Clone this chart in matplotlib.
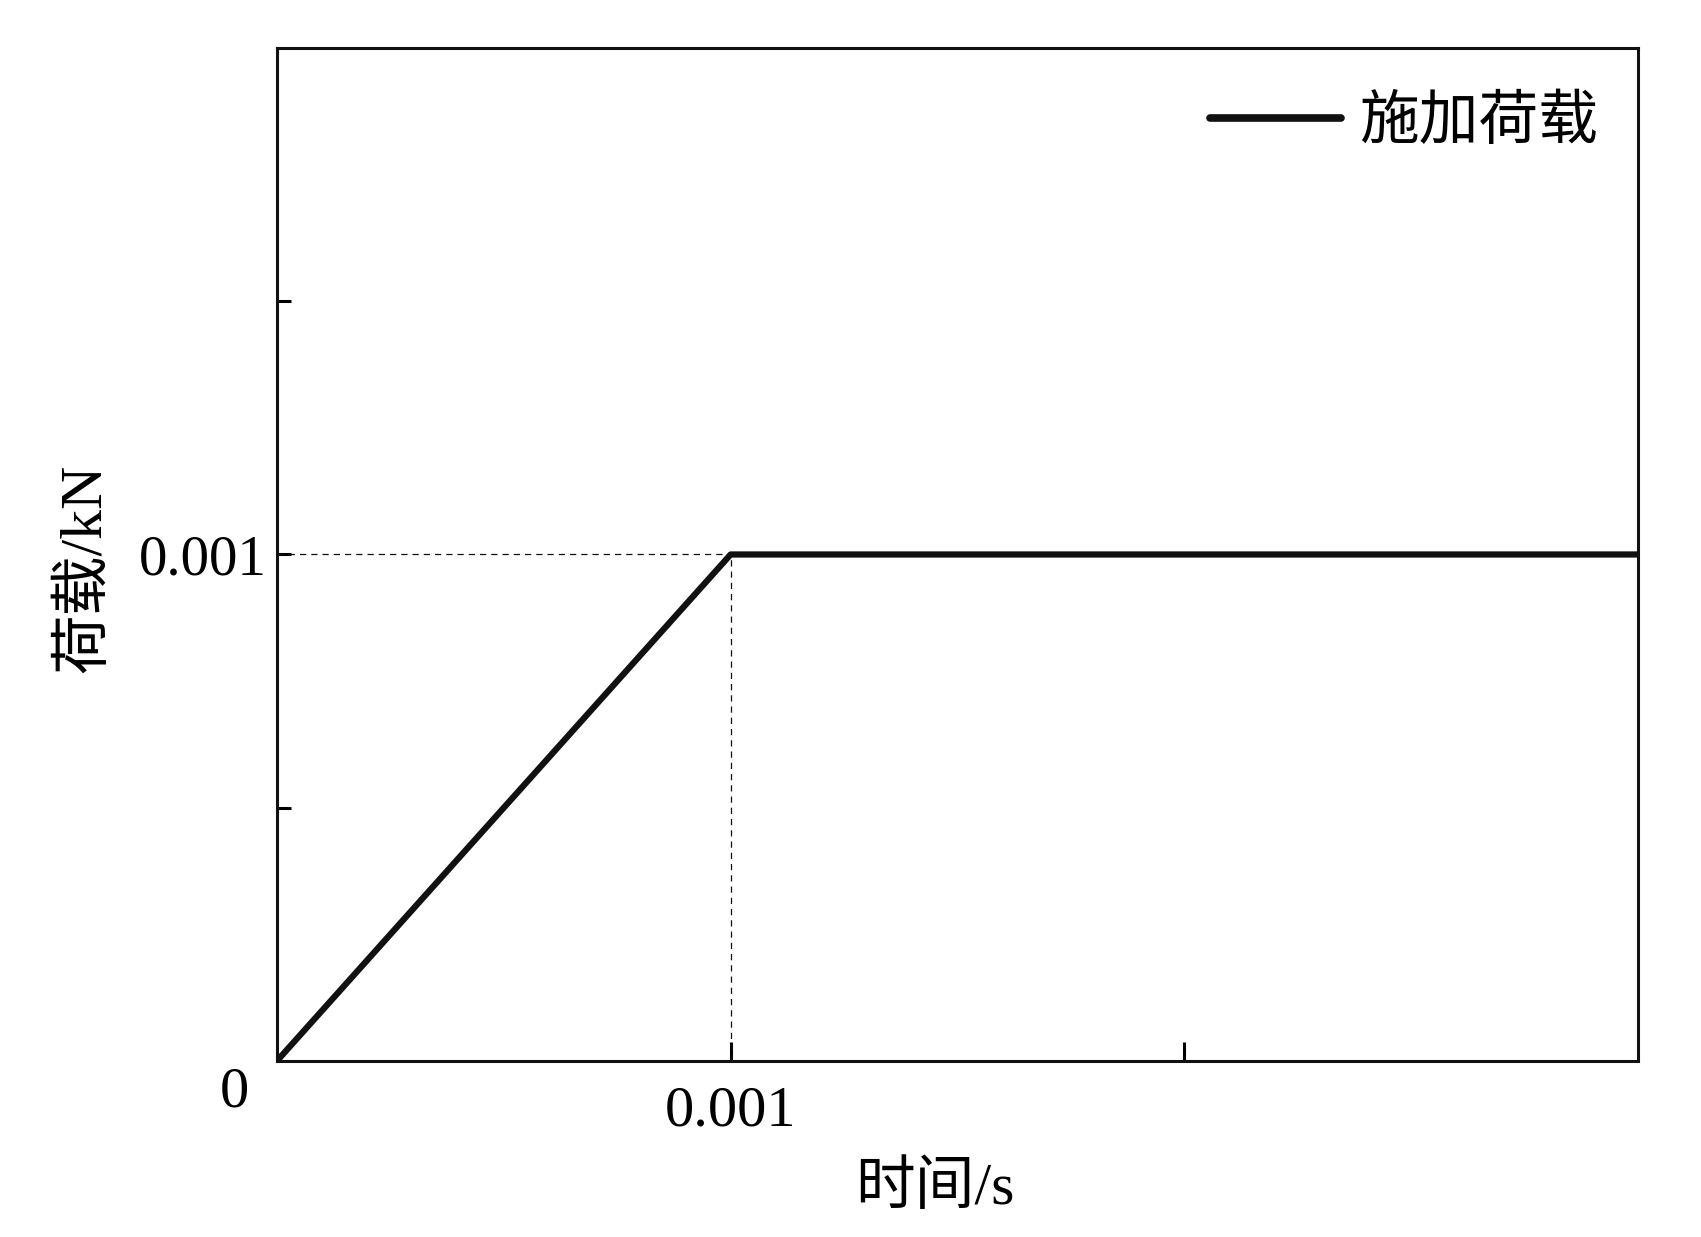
import matplotlib.pyplot as plt

plt.rcParams['font.family'] = ['Liberation Serif', 'Noto Sans CJK SC']

# applied load: linear ramp then constant
time_s = [0, 0.001, 0.003]
load_kN = [0, 0.001, 0.001]

fig = plt.figure(figsize=(17.01, 12.37), dpi=100)
ax = fig.add_axes([0.1628, 0.1423, 0.963 - 0.1628, 0.9612 - 0.1423])

ax.plot(time_s, load_kN, color='#111111', lw=4.5, label='施加荷载', solid_capstyle='round')

# guide lines to the knee point
ax.plot([0, time_s[1]], [load_kN[1], load_kN[1]], color='#111111', lw=0.9, ls=(0, (5, 4)))
ax.plot([time_s[1], time_s[1]], [0, load_kN[1]], color='#111111', lw=0.9, ls=(0, (5, 4)))

ax.set_xlim(0, 0.003)
ax.set_ylim(0, 0.002)

ax.set_xticks([0.001, 0.002])
ax.set_xticklabels(['0.001', ''])
ax.set_yticks([0.0005, 0.001, 0.0015])
ax.set_yticklabels(['', '0.001', ''])
ax.tick_params(axis='x', direction='in', length=14, width=2.2, labelsize=42, pad=18)
ax.tick_params(axis='y', direction='in', length=10, width=2.2, labelsize=41, pad=7)

for s in ax.spines.values():
    s.set_linewidth(2.2)
    s.set_color('#111111')

ax.text(-0.031, -0.031, '0', transform=ax.transAxes, ha='center', va='center', fontsize=42)

ax.set_xlabel('时间/s', fontsize=43)
ax.set_ylabel('荷载/kN', fontsize=43)
ax.xaxis.set_label_coords(0.483, -0.1)
ax.yaxis.set_label_coords(-0.12, 0.486)

leg = ax.legend(loc='upper right', frameon=False, fontsize=43, handlelength=2.2,
                handletextpad=0.3, bbox_to_anchor=(1.01, 1.005))
leg.get_lines()[0].set_linewidth(5.5)

fig.savefig('out.png', dpi=100)
